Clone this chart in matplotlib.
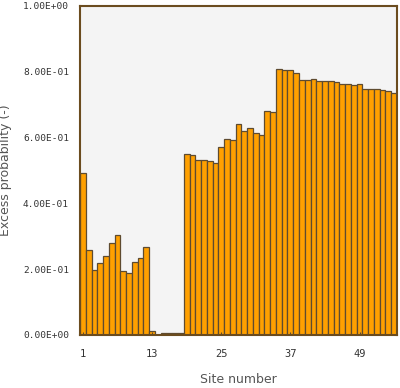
import matplotlib.pyplot as plt
import numpy as np

sites = np.arange(1, 56)

excess_prob = [0.493, 0.258, 0.198, 0.218, 0.240, 0.279, 0.305, 0.195, 0.187, 0.221,
               0.233, 0.267, 0.012, 0.0, 0.005, 0.005, 0.005, 0.005, 0.550, 0.547,
               0.532, 0.532, 0.530, 0.524, 0.572, 0.595, 0.592, 0.641, 0.621, 0.628,
               0.614, 0.608, 0.682, 0.679, 0.808, 0.805, 0.805, 0.797, 0.776, 0.776,
               0.777, 0.772, 0.772, 0.772, 0.768, 0.764, 0.764, 0.760, 0.762, 0.749,
               0.749, 0.748, 0.744, 0.741, 0.736]

x_ticks = [1, 13, 25, 37, 49]
y_ticks = [0.0, 0.2, 0.4, 0.6, 0.8, 1.0]

fig = plt.figure(figsize=(4, 3.88), dpi=100)
ax = fig.add_axes([0.2, 0.1366, 0.7925, 0.848])
ax.set_facecolor('#f4f4f4')

ax.bar(sites, excess_prob, width=1.0, color='#ffa000', edgecolor='#5e4b30', linewidth=0.9)

ax.set_xlim(0.5, 55.5)
ax.set_ylim(0, 1.0)
ax.set_xticks(x_ticks)
ax.set_yticks(y_ticks)
ax.set_yticklabels(['%.2E' % v for v in y_ticks], family='DejaVu Sans Mono', fontsize=6.8, color='#333333')
ax.set_xticklabels([str(v) for v in x_ticks], family='DejaVu Sans Mono', fontsize=7.5, color='#333333')
ax.tick_params(axis='y', length=0, pad=8)
ax.tick_params(axis='x', direction='in', length=2, color='#5e4b30', pad=10)

for s in ax.spines.values():
    s.set_color('#6b4c1f')
    s.set_linewidth(1.5)

ax.set_xlabel('Site number', fontsize=9, color='#555555', labelpad=10)
ax.set_ylabel('Excess probability (-)', fontsize=9, color='#555555')
ax.yaxis.set_label_coords(-0.215, 0.5)

plt.savefig('out.png', dpi=100)
